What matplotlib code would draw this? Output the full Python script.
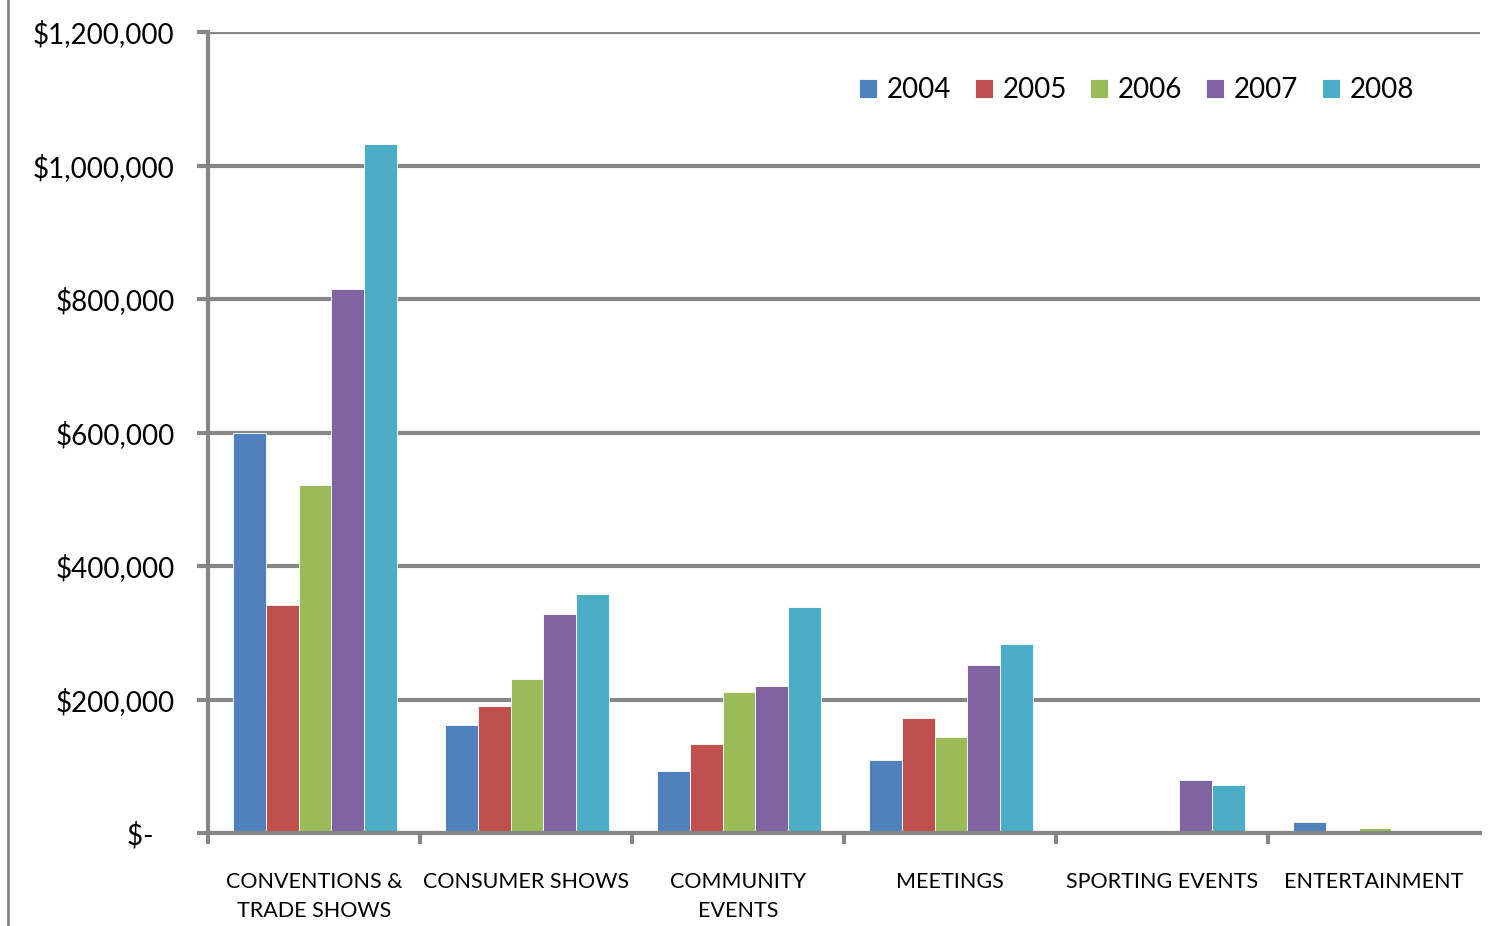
import matplotlib.pyplot as plt
import numpy as np
from matplotlib.lines import Line2D
from matplotlib.ticker import FuncFormatter

categories = ['CONVENTIONS &\nTRADE SHOWS', 'CONSUMER SHOWS', 'COMMUNITY\nEVENTS',
              'MEETINGS', 'SPORTING EVENTS', 'ENTERTAINMENT']
years = ['2004', '2005', '2006', '2007', '2008']
v2004 = [600000, 162000, 93000, 109000, 0, 16000]
v2005 = [342000, 190000, 133000, 172000, 0, 0]
v2006 = [521000, 231000, 211000, 144000, 0, 7000]
v2007 = [815000, 328000, 220000, 252000, 79000, 3000]
v2008 = [1032000, 358000, 339000, 283000, 72000, 0]
series = [v2004, v2005, v2006, v2007, v2008]
colors = ['#4F81BD', '#C0504D', '#9BBB59', '#8064A2', '#4BACC6']

gray = '#868686'
plt.rcParams['font.family'] = ['Lato', 'DejaVu Sans']

fig = plt.figure(figsize=(14.91, 9.26), dpi=100)
ax = fig.add_axes([208/1491, 93/926, 1272/1491, 801/926])

x = np.arange(len(categories)) + 0.5
w = 0.154
for i, (vals, c, yr) in enumerate(zip(series, colors, years)):
    ax.bar(x + (i - 2) * w + 0.005, vals, w, color=c, edgecolor='white', linewidth=0.6,
           label=yr, zorder=3)

ax.set_xlim(0, 6)
ax.set_ylim(0, 1200000)
ax.set_yticks(np.arange(0, 1200001, 200000))

def money(v, pos):
    if v == 0:
        return '$-   '
    return '${:,.0f}'.format(v)

ax.yaxis.set_major_formatter(FuncFormatter(money))
ax.grid(axis='y', color=gray, linewidth=3, zorder=0)
ax.set_axisbelow(True)

ax.set_xticks(np.arange(0, 6))
ax.set_xticklabels([])
ax.set_xticks(x, minor=True)
ax.set_xticklabels(categories, minor=True, fontsize=15.5, linespacing=1.6)
ax.tick_params(axis='x', which='minor', length=0, pad=28)
ax.tick_params(axis='x', which='major', length=8, width=3, color=gray, direction='out')
ax.tick_params(axis='y', length=8, width=3, color=gray, labelsize=20, pad=16)

for s in ['top', 'right']:
    ax.spines[s].set_visible(False)
for s in ['left', 'bottom']:
    ax.spines[s].set_color(gray)
    ax.spines[s].set_linewidth(3)
    ax.spines[s].set_zorder(4)

ax.legend(loc='upper left', bbox_to_anchor=(0.492, 0.975), ncol=5, frameon=False,
          fontsize=20, handlelength=0.65, handleheight=0.65, handletextpad=0.35,
          columnspacing=0.85)

fig.add_artist(Line2D([8/1491, 8/1491], [0, 1], color=gray, linewidth=2,
                      transform=fig.transFigure))

fig.savefig('out.png', dpi=100)
